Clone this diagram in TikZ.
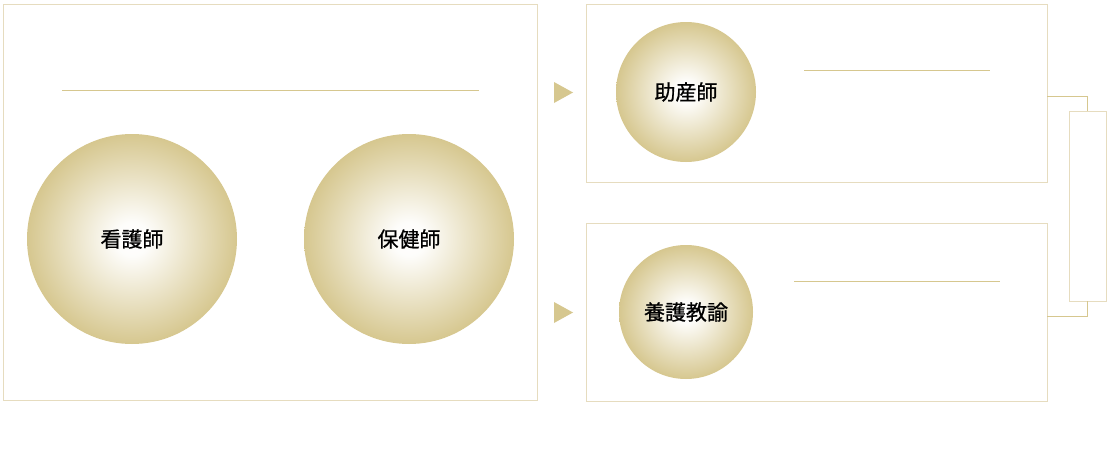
\documentclass[tikz,border=0pt]{standalone}
\usepackage{fontspec}
\newfontfamily\jpfont{Noto Sans CJK JP}[FakeBold=0.8]
\usetikzlibrary{positioning}
\definecolor{boxline}{HTML}{E6DCBF}
\definecolor{gold}{HTML}{D6C78F}
\pgfdeclareradialshading{glow}{\pgfpoint{0bp}{0bp}}{color(0bp)=(white); color(4bp)=(white!96!gold); color(25bp)=(gold); color(50bp)=(gold)}
\tikzset{
  panel/.style={draw=boxline, line width=1pt, inner sep=0pt, outer sep=0pt},
  ball/.style={circle, inner sep=0pt, outer sep=0pt, shading=glow, font={\jpfont\fontsize{21pt}{21pt}\selectfont}},
  rule/.style={draw=gold, line width=1pt},
  link/.style={draw=gold, line width=0.8pt},
}
\begin{document}
\begin{tikzpicture}[x=1pt, y=-1pt]
        \useasboundingbox (0,0) rectangle (1110,463);
        % Panels
        \node (left) at (270,202) [panel, minimum width=534pt, minimum height=396pt] {};
        \node (upper) at (816.5,93) [panel, minimum width=461pt, minimum height=178pt] {};
        \node (lower) at (816.5,312) [panel, minimum width=461pt, minimum height=178pt] {};
        \node (bracket) at (1087.5,206) [panel, minimum width=37pt, minimum height=190pt] {};
        % Circles
        \node (nurse) at (132,239) [ball, minimum size=210pt] {看護師};
        \node (phn) at (409,239) [ball, minimum size=210pt] {保健師};
        \node (midwife) at (686,92) [ball, minimum size=140pt] {助産師};
        \node (yogo) at (686,312) [ball, minimum size=134pt] {養護教諭};
        % Rules
        \draw[rule] (62,90) -- (479,90);
        \draw[rule] (804,70) -- (990,70);
        \draw[rule] (794,281) -- (1000,281);
        % Arrows
        \fill[gold] (554,82) -- (573,92.5) -- (554,103) -- cycle;
        \fill[gold] (554,302) -- (573,312.5) -- (554,323) -- cycle;
        % Links
        \draw[link] ([yshift=-3pt]upper.east) -| (bracket.north);
        \draw[link] ([yshift=-4pt]lower.east) -| (bracket.south);
    \end{tikzpicture}
\end{document}
